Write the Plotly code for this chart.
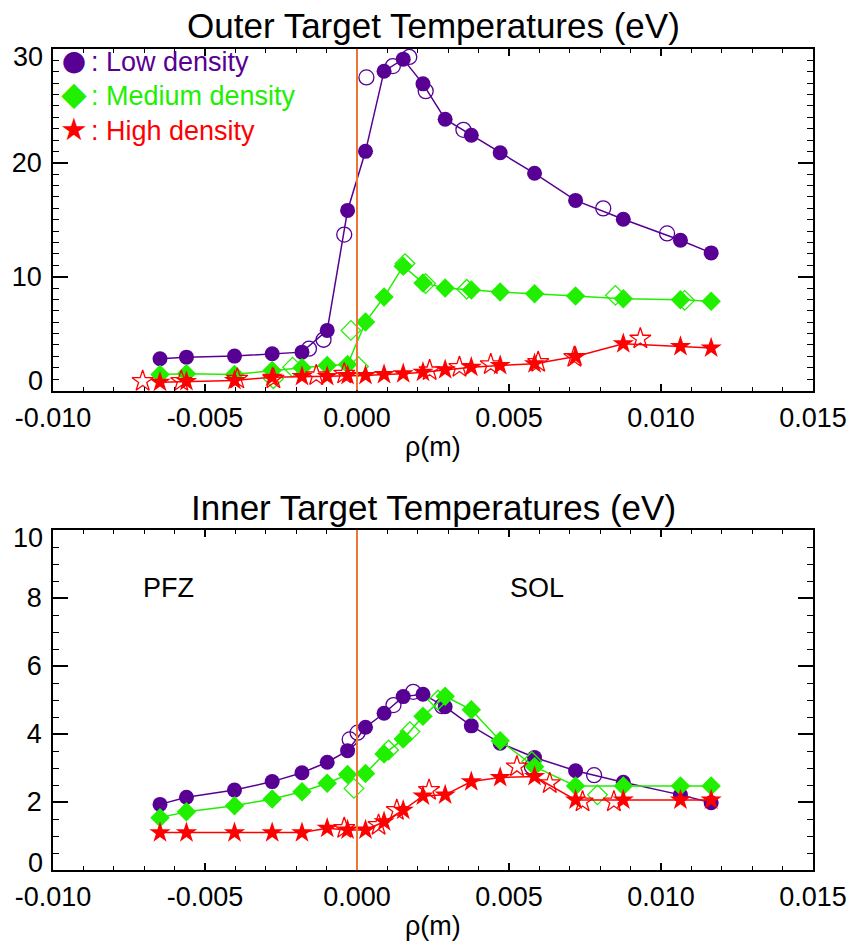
import plotly.graph_objects as go

# ---------------- data ----------------
RHO = [-0.00648, -0.00561, -0.00403, -0.00279, -0.00181, -0.00098, -0.00031,
       0.00028, 0.00089, 0.00152, 0.00217, 0.00290, 0.00376, 0.00471,
       0.00584, 0.00719, 0.00876, 0.01064, 0.01165]

# Outer target (filled, connected)
OUT_LOW = [2.79, 2.93, 3.02, 3.23, 3.37, 5.28, 15.82, 21.01, 28.05, 29.11,
           26.94, 23.83, 22.42, 20.89, 19.08, 16.70, 15.05, 13.20, 12.09]
OUT_MED = [1.41, 1.47, 1.41, 1.76, 2.00, 2.20, 2.29, 6.01, 8.21, 10.92,
           9.45, 9.00, 8.83, 8.65, 8.51, 8.30, 8.07, 7.98, 7.83]
OUT_HIGH = [0.73, 0.79, 0.88, 1.17, 1.23, 1.23, 1.32, 1.32, 1.41, 1.47,
            1.61, 1.82, 2.05, 2.20, 2.35, 2.99, 4.11, 3.87, 3.73]

# Outer target (open symbols)
OUT_LOW_OPEN_X = [-0.00158, -0.00110, -0.00042, 0.00031, 0.00118, 0.00172, 0.00226, 0.00350, 0.00810, 0.01020]
OUT_LOW_OPEN_Y = [3.67, 4.46, 13.7, 27.5, 28.5, 29.3, 26.3, 22.9, 16.0, 13.8]
OUT_MED_OPEN_X = [-0.00275, -0.00212, -0.00020, 0.00005, 0.00158, 0.00226, 0.00361, 0.00850, 0.01078]
OUT_MED_OPEN_Y = [1.03, 2.05, 5.28, 2.10, 11.15, 9.39, 8.90, 8.36, 7.92]
OUT_HIGH_OPEN_X = [-0.00705, -0.00578, -0.00394, -0.00275, -0.00134, -0.00042, 0.00239, 0.00337, 0.00440, 0.00596, 0.00715, 0.00932]
OUT_HIGH_OPEN_Y = [0.82, 0.82, 1.03, 1.03, 1.32, 1.47, 1.76, 2.05, 2.29, 2.49, 2.93, 4.55]

# Inner target (filled, connected)
IN_LOW = [1.93, 2.14, 2.35, 2.60, 2.86, 3.17, 3.51, 4.20, 4.61, 5.10,
          5.17, 4.80, 4.24, 3.73, 3.31, 2.92, 2.58, 2.21, 1.98]
IN_MED = [1.54, 1.71, 1.89, 2.09, 2.30, 2.55, 2.81, 2.84, 3.41, 3.85,
          4.52, 5.11, 4.71, 3.80, 3.04, 2.47, 2.47, 2.47, 2.47]
IN_HIGH = [1.10, 1.10, 1.10, 1.10, 1.10, 1.23, 1.18, 1.18, 1.42, 1.76,
           2.18, 2.21, 2.60, 2.72, 2.75, 2.06, 2.06, 2.06, 2.06]

# Inner target (open symbols)
IN_LOW_OPEN_X = [-0.00024, 0.00002, 0.00120, 0.00185, 0.00280, 0.00575, 0.00780]
IN_LOW_OPEN_Y = [3.84, 4.04, 4.85, 5.24, 4.82, 3.04, 2.79]
IN_MED_OPEN_X = [-0.00010, 0.00104, 0.00174, 0.00266, 0.00575, 0.00791]
IN_MED_OPEN_Y = [2.40, 3.53, 4.07, 5.00, 3.19, 2.21]
IN_HIGH_OPEN_X = [-0.00042, 0.00071, 0.00131, 0.00237, 0.00526, 0.00634, 0.00742, 0.00845]
IN_HIGH_OPEN_Y = [1.23, 1.32, 1.76, 2.35, 3.04, 2.55, 2.01, 2.01]

SERIES_NAMES = [": Low density", ": Medium density", ": High density"]
LEGEND_GLYPHS = ["●", "◆", "★"]
X_TICKS = [-0.010, -0.005, 0.000, 0.005, 0.010, 0.015]
X_TICKTEXT = ["-0.010", "-0.005", "0.000", "0.005", "0.010", "0.015"]
Y1_TICKS = [0, 10, 20, 30]
Y1_TICKTEXT = ["", "10", "20", ""]          # end labels drawn inset below
Y2_TICKS = [0, 2, 4, 6, 8, 10]
Y2_TICKTEXT = ["", "2", "4", "6", "8", ""]

# ---------------- style ----------------
PURPLE = "rgb(88,0,148)"
GREEN = "rgb(32,240,0)"
RED = "rgb(255,0,0)"
ORANGE = "rgb(238,118,50)"
FONT = "Liberation Sans, Arial, Helvetica, sans-serif"
GLYPH_FONT = "DejaVu Sans"
GLYPH_SIZES = [28, 33, 31]
COLORS = [PURPLE, GREEN, RED]
SYMS = ["circle", "diamond", "star"]
SIZES = [15, 15, 16]

fig = go.Figure()

def add_panel(xa, ya, filled, opens):
    for i, (yv, (ox, oy)) in enumerate(zip(filled, opens)):
        c = COLORS[i]
        fig.add_trace(go.Scatter(x=RHO, y=yv, mode="lines", xaxis=xa, yaxis=ya,
                                 line=dict(color=c, width=1.5), showlegend=False,
                                 hoverinfo="skip"))
        fig.add_trace(go.Scatter(x=ox, y=oy, mode="markers", xaxis=xa, yaxis=ya,
                                 marker=dict(symbol=SYMS[i] + "-open", size=SIZES[i],
                                             color=c, line=dict(color=c, width=1.3)),
                                 showlegend=False, cliponaxis=False))
        fig.add_trace(go.Scatter(x=RHO, y=yv, mode="markers", xaxis=xa, yaxis=ya,
                                 marker=dict(symbol=SYMS[i], size=SIZES[i], color=c,
                                             line=dict(width=0)),
                                 name=SERIES_NAMES[i], showlegend=False,
                                 cliponaxis=False))

add_panel("x", "y", [OUT_LOW, OUT_MED, OUT_HIGH],
          [(OUT_LOW_OPEN_X, OUT_LOW_OPEN_Y), (OUT_MED_OPEN_X, OUT_MED_OPEN_Y),
           (OUT_HIGH_OPEN_X, OUT_HIGH_OPEN_Y)])
add_panel("x2", "y2", [IN_LOW, IN_MED, IN_HIGH],
          [(IN_LOW_OPEN_X, IN_LOW_OPEN_Y), (IN_MED_OPEN_X, IN_MED_OPEN_Y),
           (IN_HIGH_OPEN_X, IN_HIGH_OPEN_Y)])

W, H = 859, 946
ML, MR, MT, MB = 50, 39, 49, 76
PH = H - MT - MB
PW = W - ML - MR

def yp(py):
    return (H - MB - py) / PH

def xp(px):
    return (px - ML) / PW

def xaxis_style(anchor):
    return dict(anchor=anchor, domain=[0, 1], range=[-0.010, 0.015],
                tickmode="array", tickvals=X_TICKS, ticktext=X_TICKTEXT,
                ticks="inside", ticklen=7, tickwidth=1.5, tickcolor="black",
                showline=True, linecolor="black", linewidth=1.5, mirror="ticks",
                showgrid=False, zeroline=False,
                tickfont=dict(family=FONT, size=27, color="black"),
                ticklabelstandoff=2,
                minor=dict(tickmode="linear", tick0=0, dtick=0.001, ticks="inside",
                           ticklen=4, tickwidth=1, tickcolor="black", showgrid=False))

def yaxis_style(anchor, dom, rng, tv, tt, mdt):
    return dict(anchor=anchor, domain=dom, range=rng, tickmode="array", tickvals=tv,
                ticktext=tt,
                ticks="inside", ticklen=15, tickwidth=1.5, tickcolor="black",
                showline=True, linecolor="black", linewidth=1.5, mirror="ticks",
                showgrid=False, zeroline=False,
                tickfont=dict(family=FONT, size=27, color="black"),
                ticklabelstandoff=4,
                minor=dict(tickmode="linear", tick0=0, dtick=mdt, ticks="inside",
                           ticklen=6, tickwidth=1, tickcolor="black", showgrid=False))

annotations = [
    dict(text="Outer Target Temperatures (eV)", xref="paper", yref="paper",
         x=0.5, y=yp(26), xanchor="center", yanchor="middle", showarrow=False,
         font=dict(family=FONT, size=35, color="black")),
    dict(text="Inner Target Temperatures (eV)", xref="paper", yref="paper",
         x=0.5, y=yp(507), xanchor="center", yanchor="middle", showarrow=False,
         font=dict(family=FONT, size=35, color="black")),
    dict(text="ρ(m)", xref="paper", yref="paper", x=0.5, y=yp(447),
         xanchor="center", yanchor="middle", showarrow=False,
         font=dict(family=FONT, size=27, color="black")),
    dict(text="ρ(m)", xref="paper", yref="paper", x=0.5, y=yp(926),
         xanchor="center", yanchor="middle", showarrow=False,
         font=dict(family=FONT, size=27, color="black")),
    dict(text="PFZ", xref="x2", yref="y2", x=-0.00712, y=8.3,
         xanchor="left", yanchor="middle", showarrow=False,
         font=dict(family=FONT, size=27, color="black")),
    dict(text="SOL", xref="x2", yref="y2", x=0.00497, y=8.3,
         xanchor="left", yanchor="middle", showarrow=False,
         font=dict(family=FONT, size=27, color="black")),
]

# inset end-of-axis y labels (as in the original, kept inside the axis span)
for yref, val, shift in [("y", Y1_TICKS[0], 10), ("y", Y1_TICKS[-1], -8),
                         ("y2", Y2_TICKS[0], 7), ("y2", Y2_TICKS[-1], -8)]:
    annotations.append(dict(text=str(val), xref="paper", yref=yref, x=0, y=val,
                            xanchor="right", yanchor="middle", xshift=-8, yshift=shift,
                            showarrow=False,
                            font=dict(family=FONT, size=27, color="black")))

# legend: one stacked annotation of symbol glyphs + coloured labels
LEG_ROWS = [62, 96, 131]
glyph_text = "<br>".join(
    '<span style="color:%s;font-size:%dpx">%s</span>' % (COLORS[i], GLYPH_SIZES[i], LEGEND_GLYPHS[i])
    for i in range(3))
annotations.append(dict(text=glyph_text, xref="paper", yref="paper",
                        x=xp(71.5), y=yp(LEG_ROWS[1]), xanchor="center",
                        yanchor="middle", showarrow=False, align="center",
                        borderpad=0,
                        font=dict(family=GLYPH_FONT, size=27, color=PURPLE)))
for i in range(3):
    annotations.append(dict(text=SERIES_NAMES[i], xref="paper", yref="paper",
                            x=xp(87), y=yp(LEG_ROWS[i]), xanchor="left",
                            yanchor="middle", showarrow=False, borderpad=0,
                            font=dict(family=FONT, size=27, color=COLORS[i])))

fig.update_layout(
    width=W, height=H,
    margin=dict(l=ML, r=MR, t=MT, b=MB),
    paper_bgcolor="white", plot_bgcolor="white",
    font=dict(family=FONT, size=27, color="black"),
    xaxis=xaxis_style("y"),
    yaxis=yaxis_style("x", [yp(390.5), 1], [0, 30], Y1_TICKS, Y1_TICKTEXT, 1),
    xaxis2=xaxis_style("y2"),
    yaxis2=yaxis_style("x2", [0, yp(530)], [0, 10], Y2_TICKS, Y2_TICKTEXT, 0.5),
    showlegend=False,
    shapes=[
        dict(type="line", xref="x", yref="y domain", x0=0, x1=0, y0=0, y1=1,
             line=dict(color=ORANGE, width=2), layer="above"),
        dict(type="line", xref="x2", yref="y2 domain", x0=0, x1=0, y0=0, y1=1,
             line=dict(color=ORANGE, width=2), layer="above"),
    ],
    annotations=annotations,
)

fig.write_html("out.html")
